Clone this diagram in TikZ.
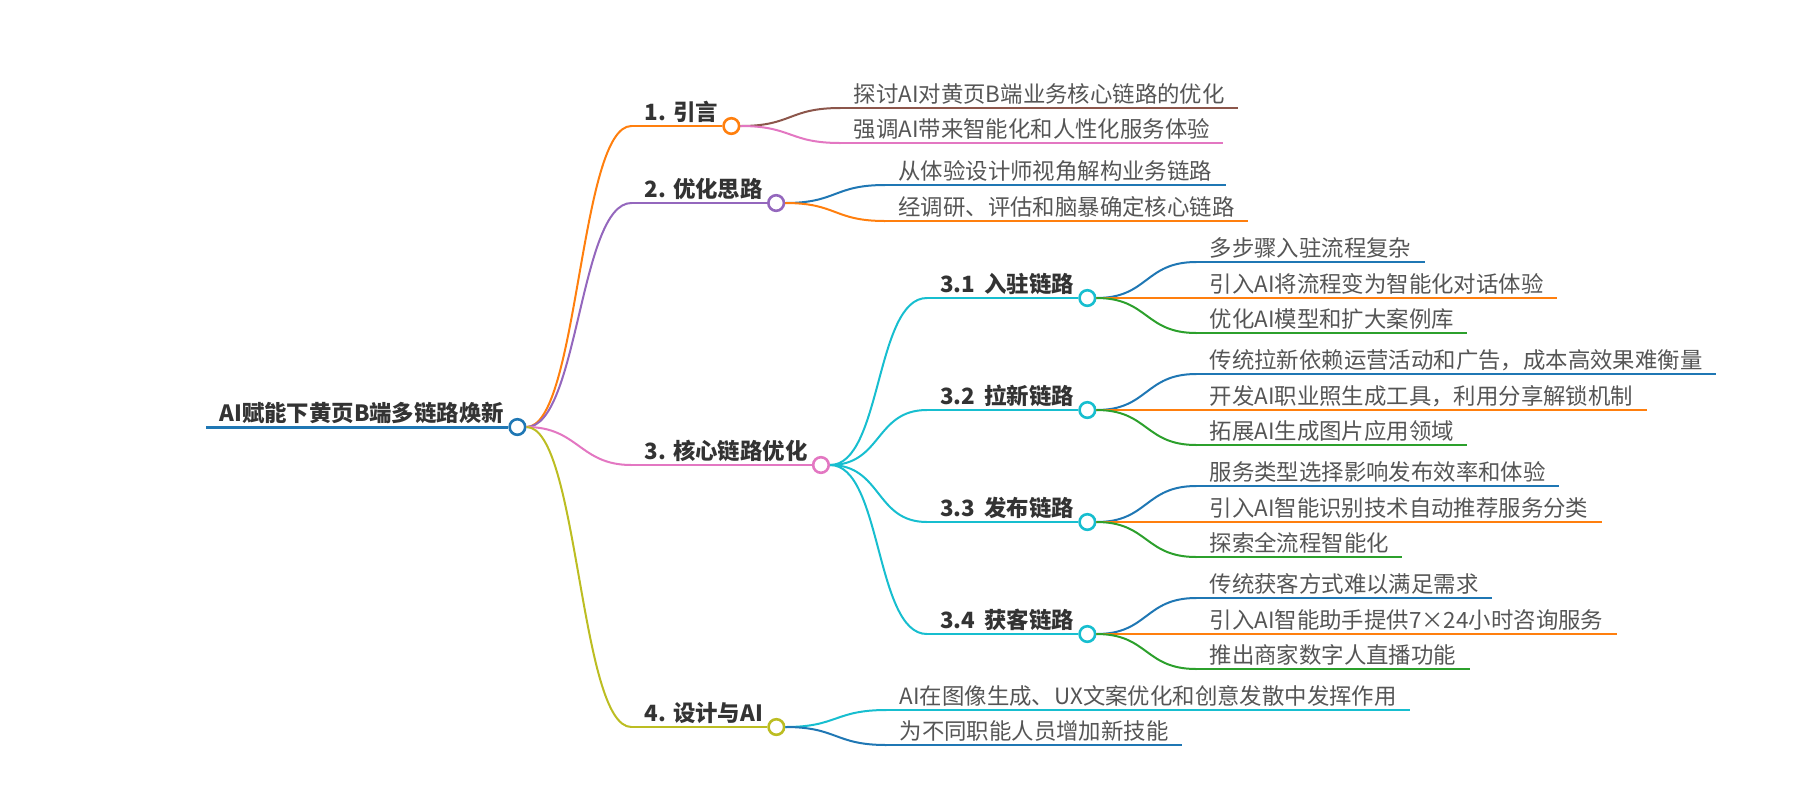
\documentclass[tikz,border=0pt]{standalone}
\usepackage{fontspec}
\setmainfont{Noto Sans CJK SC}
\usetikzlibrary{calc}
\definecolor{tblue}{HTML}{1F77B4}
\definecolor{torange}{HTML}{FF7F0E}
\definecolor{tpurple}{HTML}{9467BD}
\definecolor{tpink}{HTML}{E377C2}
\definecolor{tolive}{HTML}{BCBD22}
\definecolor{tcyan}{HTML}{17BECF}
\definecolor{tgreen}{HTML}{2CA02C}
\definecolor{tbrown}{HTML}{8C564B}
\definecolor{ink}{HTML}{333333}
\definecolor{leafink}{HTML}{555555}
\begin{document}
\begin{tikzpicture}[x=0.5pt,y=-0.5pt,
  topic/.style={anchor=south west,inner xsep=6.5pt,inner ysep=2.4pt,text depth=0pt,text=ink,font=\fontsize{11.2}{13}\selectfont\bfseries},
  leaf/.style={topic,text=leafink,font=\fontsize{11.2}{13}\selectfont},
  dot/.style={circle,draw=#1,fill=white,line width=1.3pt,minimum size=7.8pt,inner sep=0pt},
  uline/.style={draw=#1,line width=1pt},
  link/.style={draw=#1,line width=1pt}]
  \useasboundingbox (0,0) rectangle (1800,800);

  \node[topic] (root) at (206,427) {AI赋能下黄页B端多链路焕新};
  \node[dot=tblue] (rc) at (root.south east) {};
  \draw[uline=tblue,line width=1.5pt] (root.south west) -- (rc);

  \foreach \n/\dy/\c/\t in {b1/-301/torange/{1. 引言}, b2/-224/tpurple/{2. 优化思路},
      b3/38/tpink/{3. 核心链路优化}, b4/300/tolive/{4. 设计与AI}}
  {
    \node[topic] (\n) at ($(rc)+(114,\dy)$) {\t};
    \node[dot=\c] (\n c) at (\n.south east) {};
    \draw[uline=\c] (\n.south west) -- (\n c);
    \draw[link=\c] (rc.east) .. controls +(52,0) and +(-52,0) .. (\n.south west);
  }

  \foreach \n/\dy/\t in {s1/-167/{3.1\, 入驻链路}, s2/-55/{3.2\, 拉新链路},
      s3/57/{3.3\, 发布链路}, s4/169/{3.4\, 获客链路}}
  {
    \node[topic] (\n) at ($(b3c)+(106,\dy)$) {\t};
    \node[dot=tcyan] (\n c) at (\n.south east) {};
    \draw[uline=tcyan] (\n.south west) -- (\n c);
    \draw[link=tcyan] (b3c.east) .. controls +(52,0) and +(-52,0) .. (\n.south west);
  }

  \foreach \p/\n/\dx/\dy/\c/\t in {
      b1c/l11/109/-18/tbrown/{探讨AI对黄页B端业务核心链路的优化},
      b1c/l12/109/17/tpink/{强调AI带来智能化和人性化服务体验},
      b2c/l21/109/-18/tblue/{从体验设计师视角解构业务链路},
      b2c/l22/109/18/torange/{经调研、评估和脑暴确定核心链路},
      s1c/l31/109/-36/tblue/{多步骤入驻流程复杂},
      s1c/l32/109/0/torange/{引入AI将流程变为智能化对话体验},
      s1c/l33/109/35/tgreen/{优化AI模型和扩大案例库},
      s2c/l34/109/-36/tblue/{传统拉新依赖运营活动和广告，成本高效果难衡量},
      s2c/l35/109/0/torange/{开发AI职业照生成工具，利用分享解锁机制},
      s2c/l36/109/35/tgreen/{拓展AI生成图片应用领域},
      s3c/l37/109/-36/tblue/{服务类型选择影响发布效率和体验},
      s3c/l38/109/0/torange/{引入AI智能识别技术自动推荐服务分类},
      s3c/l39/109/35/tgreen/{探索全流程智能化},
      s4c/l3a/109/-36/tblue/{传统获客方式难以满足需求},
      s4c/l3b/109/0/torange/{引入AI智能助手提供7×24小时咨询服务},
      s4c/l3c/109/35/tgreen/{推出商家数字人直播功能},
      b4c/l41/110/-17/tcyan/{AI在图像生成、UX文案优化和创意发散中发挥作用},
      b4c/l42/110/18/tblue/{为不同职能人员增加新技能}}
  {
    \node[leaf] (\n) at ($(\p)+(\dx,\dy)$) {\t};
    \draw[uline=\c] (\n.south west) -- (\n.south east);
    \draw[link=\c] (\p.east) .. controls +(52,0) and +(-52,0) .. (\n.south west);
  }
\end{tikzpicture}
\end{document}
